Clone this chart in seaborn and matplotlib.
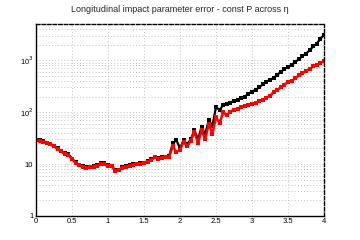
import numpy as np
import pandas as pd
import seaborn as sns
import matplotlib.pyplot as plt
from matplotlib.ticker import FixedLocator, LogLocator, NullFormatter

# eta bin centres (0.05 steps)
eta = [round(0.05 * i, 2) for i in range(81)]

# red: sigma(z0) for const P
red_vals = [29, 28, 27, 25.5, 24, 22, 19.5, 17.5, 15.5, 15,
            12.5, 10.5, 9.4, 8.8, 8.4, 8.6, 8.8, 9.2, 10.2, 10.0,
            9.2, 9.0, 7.5, 7.6, 8.4, 8.9, 9.3, 9.7, 9.9, 10.1,
            10.4, 11.2, 12.0, 13.5, 12.8, 13.2, 13.4, 14.0, 22, 17,
            19, 27, 22, 28, 42, 25, 45, 30, 60, 38,
            80, 62, 100, 88, 103, 110, 115, 126, 130, 140,
            145, 152, 162, 175, 190, 205, 245, 270, 300, 340,
            380, 400, 450, 510, 560, 620, 680, 760, 800, 900,
            950]

# black: second sample
black_vals = [29.5, 28.5, 27.5, 26, 24.5, 22.5, 20, 18, 16, 15.5,
              12.8, 10.8, 9.6, 9.0, 8.6, 8.8, 9.0, 9.4, 10.5, 10.3,
              9.4, 9.2, 7.7, 7.8, 8.6, 9.1, 9.5, 9.9, 10.1, 10.3,
              10.6, 11.5, 12.3, 14.0, 13.2, 13.6, 13.8, 14.5, 25, 29,
              20, 29, 24, 30, 45, 30, 52, 38, 70, 55,
              125, 110, 138, 145, 152, 165, 175, 185, 200, 225,
              250, 270, 300, 345, 385, 420, 455, 520, 600, 680,
              740, 820, 920, 1050, 1200, 1350, 1550, 1850, 2100, 2600,
              3100]

df_black = pd.DataFrame({"eta": eta, "val": black_vals})
df_red = pd.DataFrame({"eta": eta, "val": red_vals})

sns.set_style("white")
plt.rcParams['font.family'] = ['Liberation Sans', 'DejaVu Sans']

fig = plt.figure(figsize=(3.6, 2.4), dpi=100)
ax = fig.add_axes([0.1, 0.1, 0.8, 0.8])

sns.lineplot(data=df_black, x="eta", y="val", ax=ax, color="black",
             linewidth=1.6, marker="s", markersize=2.4, markeredgewidth=0)
sns.lineplot(data=df_red, x="eta", y="val", ax=ax, color="red",
             linewidth=1.8, marker="s", markersize=2.6, markeredgewidth=0)

ax.set_yscale("log")
ax.set_xlim(0, 4)
ax.set_ylim(1, 5000)
ax.set_xlabel("")
ax.set_ylabel("")

ax.set_xticks([0, 0.5, 1, 1.5, 2, 2.5, 3, 3.5, 4])
ax.set_xticklabels(["0", "0.5", "1", "1.5", "2", "2.5", "3", "3.5", "4"])
ax.xaxis.set_minor_locator(FixedLocator(np.arange(0, 4.01, 0.1)))
ax.yaxis.set_major_locator(FixedLocator([1, 10, 100, 1000]))
ax.set_yticklabels(["1", "10", "10$^{2}$", "10$^{3}$"])
ax.yaxis.set_minor_locator(LogLocator(base=10, subs=np.arange(2, 10)))
ax.yaxis.set_minor_formatter(NullFormatter())

ax.tick_params(axis="both", which="both", direction="in", labelsize=5.5,
               colors="black", width=0.8)
ax.tick_params(axis="y", which="major", length=6.5, pad=2)
ax.tick_params(axis="y", which="minor", length=3.2)
ax.tick_params(axis="x", which="major", length=4.3, pad=1.5)
ax.tick_params(axis="x", which="minor", length=2.2)

grid_style = dict(linestyle=(0, (1, 2.2)), color="#c4c4c4", linewidth=0.7)
ax.grid(True, which="major", axis="x", **grid_style)
ax.grid(True, which="both", axis="y", **grid_style)

for side in ["left", "bottom"]:
    ax.spines[side].set_color("black")
    ax.spines[side].set_linewidth(1.0)
for side in ["top", "right"]:
    ax.spines[side].set_color("black")
    ax.spines[side].set_linestyle((0, (2.5, 1.5)))
    ax.spines[side].set_linewidth(1.0)

fig.text(0.5, 0.962, "Longitudinal impact parameter error - const P across η",
         ha="center", va="center", fontsize=6.5)

fig.savefig("out.png", dpi=100)
